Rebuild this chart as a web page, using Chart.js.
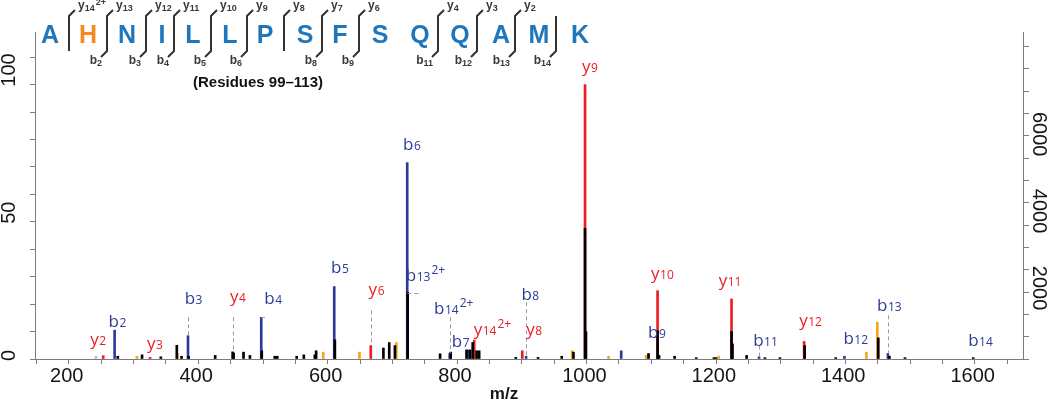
<!DOCTYPE html>
<html>
<head>
<meta charset="utf-8">
<script src="https://cdn.jsdelivr.net/npm/chart.js@4.4.1/dist/chart.umd.min.js"></script>
<style>
  html, body { margin: 0; padding: 0; background: #fff; }
  #wrap { width: 1050px; height: 401px; position: relative; }
</style>
</head>
<body>
<div id="wrap"><canvas id="spectrum"></canvas></div>
<script>
// peaks as [m/z, relative intensity %]
const blackPeaks = [
  [300.5, 1.0], [338, 1.5], [367, 0.8], [391.7, 5.0], [399, 1.0], [410, 1.0], [451, 1.3],
  [478, 2.6], [479.5, 2.2], [494.8, 2.5], [504.7, 1.3], [523, 3.0], [543, 1.0], [547, 1.0],
  [577, 1.0], [588, 1.5], [605, 1.5], [607, 3.0], [636, 7.0], [711, 4.0], [720, 6.0],
  [728.8, 4.9], [748.5, 24.3], [798.6, 1.9], [815, 2.5], [839.4, 3.3], [845, 3.3], [849, 6.0],
  [855, 3.0], [859, 3.0], [915.6, 0.6], [950, 0.6], [986.6, 1.0], [1004.7, 2.5], [1022.6, 47.6],
  [1024, 10.0], [1120.7, 2.0], [1134.7, 10.3], [1137, 1.3], [1161, 1.0], [1194.5, 0.5],
  [1221.8, 0.5], [1225, 0.5], [1249, 10.0], [1250.5, 5.5], [1272.3, 1.3], [1300.6, 0.5],
  [1323.8, 0.5], [1362, 4.9], [1410, 0.5], [1475.8, 7.7], [1493, 1.0], [1517, 0.5], [1622.6, 0.5]
];
const yIonPeaks = [
  [278, 1.2], [350.4, 0.6], [691.5, 4.9], [851.3, 6.9], [925.6, 3.0], [1022.6, 100],
  [1134.7, 24.9], [1249, 21.9], [1361.2, 6.4]
];
const bIonPeaks = [
  [295.6, 10.5], [409, 8.5], [522.2, 15.2], [635, 26.4], [747.8, 71.6], [813.5, 2.0],
  [842.4, 3.3], [931.5, 1.0], [1078.5, 3.0], [1291.5, 0.8], [1423.5, 1.0], [1490.7, 2.0]
];
const orangePeaks = [
  [330, 1.0], [392.7, 2.0], [618, 2.5], [674, 2.5], [731, 6.0], [1002.6, 3.0], [1059, 1.0],
  [1117, 1.3], [1229, 1.0], [1457.4, 2.5], [1474.3, 13.4]
];
const lightBluePeaks = [[266.8, 1.0]];

// ion labels: [letter, subscript, superscript, series, label m/z, label %]
const ionLabels = [
  ['y', '2', '', 'y', 270.2, 6.0], ['b', '2', '', 'b', 300, 14.0], ['y', '3', '', 'y', 358, 4.7],
  ['b', '3', '', 'b', 417.6, 22.2], ['y', '4', '', 'y', 486, 21.7], ['b', '4', '', 'b', 540.6, 22.4],
  ['b', '5', '', 'b', 643.7, 33.7], ['b', '6', '', 'b', 755, 78.6], ['y', '6', '', 'y', 700.4, 24.4],
  ['b', '13', '2+', 'b', 776, 31.4], ['b', '14', '2+', 'b', 819.7, 19.3], ['b', '7', '', 'b', 830.4, 6.7],
  ['y', '14', '2+', 'y', 879.4, 10.8], ['b', '8', '', 'b', 938, 23.8], ['y', '8', '', 'y', 944, 9.5],
  ['y', '9', '', 'y', 1030, 105.5], ['y', '10', '', 'y', 1142.2, 30.1], ['b', '9', '', 'b', 1133.6, 10.0],
  ['y', '11', '', 'y', 1246.7, 27.7], ['b', '11', '', 'b', 1301.5, 7.1], ['y', '12', '', 'y', 1371.2, 13.1],
  ['b', '12', '', 'b', 1441, 7.7], ['b', '13', '', 'b', 1493, 19.9], ['b', '14', '', 'b', 1633.8, 7.1]
];
// dashed guides: vertical [m/z, from %, to %], horizontal [m/z from, m/z to, %]
const vGuides = [[409, 15.2, 8.5], [478, 15.2, 2.6], [691.5, 17.7, 4.9], [813.5, 15.2, 2.0],
  [931.5, 20.7, 1.0], [1291.5, 4.9, 0.8], [1490.7, 15.9, 2.0]];
const hGuides = [[748, 766, 24.0], [522.2, 528, 15.3]];

// peptide header
const residues = ['A', 'H', 'N', 'I', 'L', 'L', 'P', 'S', 'F', 'S', 'Q', 'Q', 'A', 'M', 'K'];
const modifiedResidue = 1;
const yTopLabels = [['14', '2+'], ['13'], ['12'], ['11'], ['10'], ['9'], ['8'], ['7'], ['6'], null, ['4'], ['3'], ['2'], null];
const bBottomLabels = [null, '2', '3', '4', '5', '6', null, '8', '9', null, '11', '12', '13', '14'];

const xTickLabels = [200, 400, 600, 800, 1000, 1200, 1400, 1600];
const leftTickLabels = [0, 50, 100];
const rightTickLabels = [2000, 4000, 6000];

const axisGray = '#7c7c7c';
const textDark = '#151515';
const redC = '#ec1c24', blueC = '#2e3a98', orangeC = '#f7a51c', lightBlueC = '#8fcbea';
const fam = '"Liberation Sans", Arial, Helvetica, sans-serif';
const ionFam = '"Open Sans", sans-serif';

// header layout (pixels)
const letterX = [50, 88, 127, 162, 193, 230, 265, 305, 340, 380, 420, 460, 501, 539, 580];
const sepX = [69, 107, 146, 174, 211, 247, 284, 322, 359, null, 438, 477, 515, 556];

const range = (a, b, s) => { const r = []; for (let v = a; v <= b; v += s) r.push(v); return r; };

const toPts = arr => arr.map(p => ({ x: p[0], y: p[1] }));

function drawIon(ctx, base, sub, sup, cx, cy, color) {
  const fBase = '17px ' + ionFam, fSmall = '12px ' + ionFam;
  ctx.font = fBase;
  const wb = ctx.measureText(base).width;
  ctx.font = fSmall;
  const ws = ctx.measureText(sub).width;
  const wp = sup ? ctx.measureText(sup).width + 1 : 0;
  const total = wb + ws + wp + 0.5;
  const top = sup ? -16 : (base === 'b' ? -12.5 : -9);
  const bottom = base === 'y' ? 4 : 0;
  const by = cy - (top + bottom) / 2;
  const x0 = cx - total / 2;
  ctx.fillStyle = color;
  ctx.textAlign = 'left';
  ctx.textBaseline = 'alphabetic';
  ctx.font = fBase;
  ctx.fillText(base, x0, by);
  ctx.font = fSmall;
  ctx.fillText(sub, x0 + wb + 0.5, by);
  if (sup) ctx.fillText(sup, x0 + wb + ws + 1.5, by - 7);
}

const annotate = {
  id: 'annotate',
  afterDatasetsDraw(chart) {
    const { ctx, scales: { x, y } } = chart;
    ctx.save();
    ctx.strokeStyle = '#9c9c9c';
    ctx.lineWidth = 1;
    ctx.setLineDash([4, 3]);
    vGuides.forEach(([m, a, b]) => {
      const px = Math.round(x.getPixelForValue(m)) + 0.5;
      ctx.beginPath();
      ctx.moveTo(px, y.getPixelForValue(a));
      ctx.lineTo(px, y.getPixelForValue(b));
      ctx.stroke();
    });
    hGuides.forEach(([m1, m2, v]) => {
      const py = Math.round(y.getPixelForValue(v)) + 0.5;
      ctx.beginPath();
      ctx.moveTo(x.getPixelForValue(m1), py);
      ctx.lineTo(x.getPixelForValue(m2), py);
      ctx.stroke();
    });
    ctx.setLineDash([]);
    ionLabels.forEach(([b, s, p, ser, m, v]) => {
      drawIon(ctx, b, s, p, x.getPixelForValue(m), y.getPixelForValue(v), ser === 'y' ? redC : blueC);
    });
    ctx.restore();
  },
  afterDraw(chart) {
    const { ctx, scales: { x, y, y2 } } = chart;
    ctx.save();
    // rotated axis labels
    ctx.fillStyle = textDark;
    ctx.font = '20px ' + fam;
    ctx.textBaseline = 'alphabetic';
    leftTickLabels.forEach(v => {
      ctx.save();
      ctx.translate(15, y.getPixelForValue(v) + 2);
      ctx.rotate(-Math.PI / 2);
      ctx.textAlign = 'left';
      ctx.fillText(String(v), 0, 0);
      ctx.restore();
    });
    rightTickLabels.forEach(v => {
      ctx.save();
      ctx.translate(1033, y2.getPixelForValue(v) + 6);
      ctx.rotate(Math.PI / 2);
      ctx.textAlign = 'center';
      ctx.fillText(String(v), 0, 0);
      ctx.restore();
    });
    // axis title
    ctx.font = 'bold 17px ' + fam;
    ctx.textAlign = 'center';
    ctx.fillText('m/z', 504, 399);

    // peptide sequence header
    ctx.font = 'bold 25px ' + fam;
    ctx.textAlign = 'center';
    residues.forEach((r, i) => {
      ctx.fillStyle = i === modifiedResidue ? '#f6891f' : '#1e77bd';
      ctx.fillText(r, letterX[i], 43);
    });
    ctx.strokeStyle = '#333';
    ctx.fillStyle = '#3a3a3a';
    ctx.lineWidth = 2;
    sepX.forEach((sx, i) => {
      if (sx === null) return;
      const yl = yTopLabels[i], bl = bBottomLabels[i];
      ctx.beginPath();
      if (yl) { ctx.moveTo(sx + 6, 10); ctx.lineTo(sx, 16); } else { ctx.moveTo(sx, 16); }
      ctx.lineTo(sx, 51);
      if (bl) ctx.lineTo(sx - 6, 57);
      ctx.stroke();
      ctx.textAlign = 'left';
      if (yl) {
        ctx.font = 'bold 12px ' + fam;
        ctx.fillText('y', sx + 9, 9);
        const w = ctx.measureText('y').width;
        ctx.font = 'bold 9px ' + fam;
        ctx.fillText(yl[0], sx + 9 + w, 11);
        if (yl[1]) ctx.fillText(yl[1], sx + 10 + w + ctx.measureText(yl[0]).width, 5);
      }
      if (bl) {
        ctx.font = 'bold 9px ' + fam;
        const ws = ctx.measureText(bl).width;
        ctx.font = 'bold 12px ' + fam;
        const wb = ctx.measureText('b').width;
        const x0 = sx - 5 - ws - wb;
        ctx.fillText('b', x0, 64);
        ctx.font = 'bold 9px ' + fam;
        ctx.fillText(bl, x0 + wb, 66);
      }
    });
    ctx.fillStyle = '#111';
    ctx.font = 'bold 15px ' + fam;
    ctx.textAlign = 'center';
    ctx.fillText('(Residues 99\u2013113)', 258, 87);
    ctx.restore();
  }
};

const barDefaults = { grouped: false, barThickness: 2, borderWidth: 0 };

new Chart(document.getElementById('spectrum'), {
  type: 'bar',
  data: {
    datasets: [
      Object.assign({ label: 'other', data: toPts(blackPeaks), backgroundColor: '#000', order: 0 }, barDefaults),
      Object.assign({ label: 'y ions', data: toPts(yIonPeaks), backgroundColor: redC, order: 1 }, barDefaults),
      Object.assign({ label: 'b ions', data: toPts(bIonPeaks), backgroundColor: blueC, order: 1 }, barDefaults),
      Object.assign({ label: 'neutral loss', data: toPts(orangePeaks), backgroundColor: orangeC, order: 1 }, barDefaults),
      Object.assign({ label: 'internal', data: toPts(lightBluePeaks), backgroundColor: lightBlueC, order: 1 }, barDefaults)
    ]
  },
  options: {
    responsive: true,
    maintainAspectRatio: false,
    animation: false,
    layout: { padding: { top: 32, left: 0, right: 0, bottom: 0 } },
    plugins: { legend: { display: false }, tooltip: { enabled: false } },
    scales: {
      x: {
        type: 'linear',
        min: 198,
        max: 1674,
        afterBuildTicks: s => { s.ticks = range(200, 1650, 50).map(v => ({ value: v })); },
        afterFit: s => { s.height = 42; },
        ticks: {
          callback: v => xTickLabels.includes(v) ? String(v) : '',
          labelOffset: 14,
          autoSkip: false,
          maxRotation: 0,
          padding: 0,
          color: textDark,
          font: { family: fam, size: 20 }
        },
        grid: { drawOnChartArea: false, tickLength: 5, color: axisGray },
        border: { color: axisGray, width: 1 }
      },
      y: {
        position: 'left',
        min: 0,
        max: 119.2,
        afterBuildTicks: s => { s.ticks = range(0, 110, 10).map(v => ({ value: v })); },
        afterFit: s => { s.width = 35; },
        ticks: { display: false },
        grid: { drawOnChartArea: false, tickLength: 5, color: axisGray },
        border: { color: axisGray, width: 1 }
      },
      y2: {
        position: 'right',
        min: 0,
        max: 8500,
        afterBuildTicks: s => { s.ticks = range(0, 8120, 580).map(v => ({ value: v })); },
        afterFit: s => { s.width = 27; },
        ticks: { display: false },
        grid: { drawOnChartArea: false, tickLength: 6, color: axisGray },
        border: { color: axisGray, width: 1 }
      }
    }
  },
  plugins: [annotate]
});
</script>
</body>
</html>
